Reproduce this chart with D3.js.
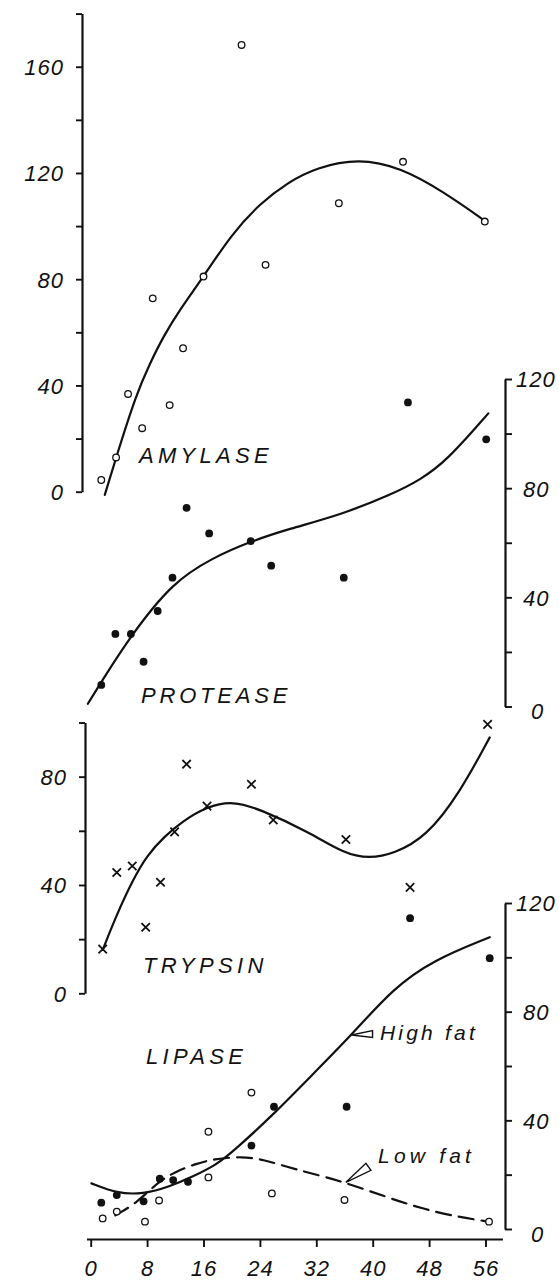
<!DOCTYPE html>
<html>
<head>
<meta charset="utf-8">
<script src="https://cdn.jsdelivr.net/npm/d3@7"></script>
<style>
  html, body { margin: 0; padding: 0; background: #fff; }
  svg { display: block; }
  text { font-family: "Liberation Sans", Arial, sans-serif; font-style: italic; fill: #111; }
</style>
</head>
<body>
<svg id="chart" width="559" height="1281"></svg>
<script>
// Age of animals (days) on the shared x axis
const xTicks = [0, 8, 16, 24, 32, 40, 48, 56];

// Amylase (open circles) and fitted curve
const amylaseAge   = [1.5, 3.6, 5.3, 7.3, 8.8, 11.2, 13.1, 16.0, 21.4, 24.8, 35.2, 44.3, 55.9];
const amylaseValue = [4.4, 12.9, 36.8, 23.9, 72.8, 32.6, 54.0, 81.0, 168.2, 85.4, 108.6, 124.2, 101.7];
const amylaseFitAge   = [2.0, 3.6, 6.5, 8.4, 10.3, 12.6, 16.0, 20.0, 24.0, 28.0, 32.0, 38.0, 44.0, 50.0, 55.9];
const amylaseFitValue = [-1.2, 12.9, 37.0, 48.3, 58.4, 68.4, 81.0, 97.0, 108.5, 116.5, 122.0, 125.5, 122.0, 113.0, 102.0];
const amylaseTickLabels = [0, 40, 80, 120, 160];

// Protease (filled dots) and fitted curve
const proteaseAge   = [1.5, 3.5, 5.7, 7.5, 9.5, 11.6, 13.6, 16.8, 22.7, 25.6, 35.9, 45.0, 56.1];
const proteaseValue = [7.9, 26.6, 26.6, 16.4, 35.0, 47.2, 72.8, 63.4, 60.6, 51.6, 47.2, 111.4, 97.9];
const proteaseFitAge   = [-0.4, 1.5, 5.7, 11.6, 17.3, 22.7, 28.0, 35.8, 42.9, 46.7, 50.5, 56.4];
const proteaseFitValue = [1.0, 9.0, 26.0, 45.5, 54.5, 60.5, 65.0, 70.5, 78.0, 83.0, 90.0, 107.4];
const proteaseTickLabels = [0, 40, 80, 120];

// Trypsin (crosses) and fitted curve
const trypsinAge   = [1.7, 3.7, 5.9, 7.8, 9.9, 11.9, 13.6, 16.5, 22.8, 25.9, 36.2, 45.3, 56.3];
const trypsinValue = [16.3, 44.6, 47.0, 24.4, 41.0, 59.6, 84.6, 69.1, 77.2, 64.0, 56.8, 39.1, 99.3];
const trypsinFitAge   = [1.7, 3.6, 6.0, 8.0, 10.5, 13.0, 16.5, 20.2, 24.0, 31.0, 36.0, 39.5, 43.0, 47.6, 52.3, 56.6];
const trypsinFitValue = [16.0, 28.5, 42.0, 51.0, 58.0, 63.5, 69.0, 71.0, 68.0, 59.5, 51.5, 49.8, 51.5, 57.8, 73.8, 94.5];
const trypsinTickLabels = [0, 40, 80];

// Lipase: high-fat diet (filled) and low-fat diet (open)
const lipaseHighAge   = [1.5, 3.7, 7.5, 9.8, 11.7, 13.8, 22.8, 26.0, 36.3, 45.3, 56.6];
const lipaseHighValue = [9.7, 12.5, 10.2, 18.5, 18.0, 17.4, 30.7, 45.0, 45.0, 114.4, 99.7];
const lipaseLowAge    = [1.7, 3.7, 7.7, 9.7, 16.7, 16.7, 22.8, 25.7, 36.0, 56.5];
const lipaseLowValue  = [3.9, 6.4, 2.7, 10.5, 19.0, 35.8, 50.2, 13.1, 10.7, 2.7];
const lipaseHighFitAge   = [0.1, 3.7, 7.4, 11.2, 14.5, 17.8, 20.2, 26.1, 31.5, 37.0, 42.9, 48.6, 56.6];
const lipaseHighFitValue = [16.8, 13.1, 12.8, 15.6, 19.3, 23.6, 28.5, 42.6, 57.0, 71.4, 88.6, 99.0, 107.4];
const lipaseLowFitAge   = [3.5, 6.5, 9.4, 11.9, 14.9, 17.4, 21.5, 24.5, 27.7, 31.2, 35.7, 41.8, 46.8, 51.9, 56.5];
const lipaseLowFitValue = [5.0, 9.5, 17.0, 21.0, 24.0, 25.7, 26.8, 25.5, 23.0, 20.5, 17.5, 11.9, 7.6, 4.5, 2.7];
const lipaseTickLabels = [0, 40, 80, 120];

const svg = d3.select("#chart");
svg.append("rect").attr("width", 559).attr("height", 1281).attr("fill", "#fff");

const ink = "#111";
const x = d3.scaleLinear().domain([0, 56]).range([90.7, 485.5]);

const yAmylase  = d3.scaleLinear().domain([0, 180]).range([491.7, 13.6]);
const yProtease = d3.scaleLinear().domain([0, 120]).range([706.5, 379]);
const yTrypsin  = d3.scaleLinear().domain([0, 100]).range([993.3, 722.5]);
const yLipase   = d3.scaleLinear().domain([0, 120]).range([1229, 903]);

const zip = (a, b) => a.map((v, i) => [v, b[i]]);

function styleAxis(g) {
  g.select(".domain").attr("stroke", ink).attr("stroke-width", 2.2);
  g.selectAll(".tick line").attr("stroke", ink).attr("stroke-width", 1.9);
  g.selectAll(".tick text")
    .attr("fill", ink)
    .style("font-size", "22px")
    .style("font-family", '"Liberation Sans", Arial, sans-serif')
    .style("font-style", "italic")
    .attr("letter-spacing", 1);
}

// left-hand axes
function leftAxis(scale, xPos, labels) {
  const top = scale.domain()[1];
  const g = svg.append("g").attr("transform", `translate(${xPos},0)`)
    .call(d3.axisLeft(scale)
      .tickValues(d3.range(0, top + 1, 20))
      .tickSize(6).tickSizeOuter(0).tickPadding(12)
      .tickFormat(d => labels.includes(d) ? d : ""));
  styleAxis(g);
  g.selectAll(".tick text").attr("dy", "0.36em");
  return g;
}

// right-hand axes
function rightAxis(scale, xPos, labels) {
  const top = scale.domain()[1];
  const g = svg.append("g").attr("transform", `translate(${xPos},0)`)
    .call(d3.axisRight(scale)
      .tickValues(d3.range(0, top + 1, 20))
      .tickSize(7).tickSizeOuter(0)
      .tickFormat(d => labels.includes(d) ? d : ""));
  styleAxis(g);
  g.selectAll(".tick text")
    .attr("x", d => d === 0 ? 26 : (d >= 100 ? 11 : 18))
    .attr("dy", d => d === 0 ? "0.55em" : "0.36em");
  return g;
}

leftAxis(yAmylase, 82, amylaseTickLabels);
rightAxis(yProtease, 505, proteaseTickLabels);
leftAxis(yTrypsin, 85, trypsinTickLabels);
rightAxis(yLipase, 505, lipaseTickLabels);

// shared x axis along the bottom
const xAxisScale = x.copy().domain([-0.6, 58.4]).range([x(-0.6), x(58.4)]);
const gx = svg.append("g").attr("transform", "translate(0,1239)")
  .call(d3.axisBottom(xAxisScale).tickValues(xTicks).tickSize(8).tickSizeOuter(0).tickPadding(13)
    .tickFormat(d => d));
styleAxis(gx);
gx.selectAll(".tick text").attr("dy", "0.71em");

// fitted curves, smoothed through the traced knots
const curveLine = (yScale) => d3.line()
  .x(d => x(d[0])).y(d => yScale(d[1]))
  .curve(d3.curveBasis);

function drawCurve(ages, values, yScale, dash) {
  svg.append("path")
    .datum(zip(ages, values))
    .attr("d", curveLine(yScale))
    .attr("fill", "none")
    .attr("stroke", ink)
    .attr("stroke-width", 2.2)
    .attr("stroke-linecap", "round")
    .attr("stroke-dasharray", dash || null);
}

drawCurve(amylaseFitAge, amylaseFitValue, yAmylase);
drawCurve(proteaseFitAge, proteaseFitValue, yProtease);
drawCurve(trypsinFitAge, trypsinFitValue, yTrypsin);
drawCurve(lipaseHighFitAge, lipaseHighFitValue, yLipase);
drawCurve(lipaseLowFitAge, lipaseLowFitValue, yLipase, "15,8");

// point markers
function openCircles(ages, values, yScale) {
  svg.append("g").selectAll("circle").data(zip(ages, values)).join("circle")
    .attr("cx", d => x(d[0])).attr("cy", d => yScale(d[1]))
    .attr("r", 3.3).attr("fill", "#fff").attr("stroke", ink).attr("stroke-width", 1.3);
}
function filledDots(ages, values, yScale) {
  svg.append("g").selectAll("circle").data(zip(ages, values)).join("circle")
    .attr("cx", d => x(d[0])).attr("cy", d => yScale(d[1]))
    .attr("r", 3.9).attr("fill", ink);
}
function crosses(ages, values, yScale) {
  const s = 4.2;
  svg.append("g").selectAll("path").data(zip(ages, values)).join("path")
    .attr("d", d => {
      const cx = x(d[0]), cy = yScale(d[1]);
      return `M${cx - s},${cy - s}L${cx + s},${cy + s}M${cx - s},${cy + s}L${cx + s},${cy - s}`;
    })
    .attr("stroke", ink).attr("stroke-width", 1.8).attr("fill", "none");
}

openCircles(amylaseAge, amylaseValue, yAmylase);
filledDots(proteaseAge, proteaseValue, yProtease);
crosses(trypsinAge, trypsinValue, yTrypsin);
openCircles(lipaseLowAge, lipaseLowValue, yLipase);
filledDots(lipaseHighAge, lipaseHighValue, yLipase);

// panel titles
function label(text, px, py, size, spacing) {
  svg.append("text").attr("x", px).attr("y", py)
    .style("font-size", size + "px")
    .attr("letter-spacing", spacing)
    .text(text);
}
label("AMYLASE", 139, 463, 22, 4.3);
label("PROTEASE", 141, 703, 22, 3.8);
label("TRYPSIN", 143, 973, 22, 4.3);
label("LIPASE", 146, 1064, 22, 4.3);
label("High fat", 380, 1040, 21, 3.2);
label("Low fat", 378, 1163, 21, 4.2);

// leader pointers from the lipase curves to their labels
const hiPt = [x(37.0), yLipase(71.4)];
svg.append("path")
  .attr("d", `M${hiPt[0]},${hiPt[1]}L${hiPt[0] + 21},${hiPt[1] - 4.5}L${hiPt[0] + 21},${hiPt[1] + 2.5}Z`)
  .attr("fill", "#fff").attr("stroke", ink).attr("stroke-width", 1.4);
const loPt = [x(36.2), yLipase(17.2)];
svg.append("path")
  .attr("d", `M${loPt[0]},${loPt[1]}L${loPt[0] + 20},${loPt[1] - 19}L${loPt[0] + 25},${loPt[1] - 12}Z`)
  .attr("fill", "#fff").attr("stroke", ink).attr("stroke-width", 1.4);
</script>
</body>
</html>
